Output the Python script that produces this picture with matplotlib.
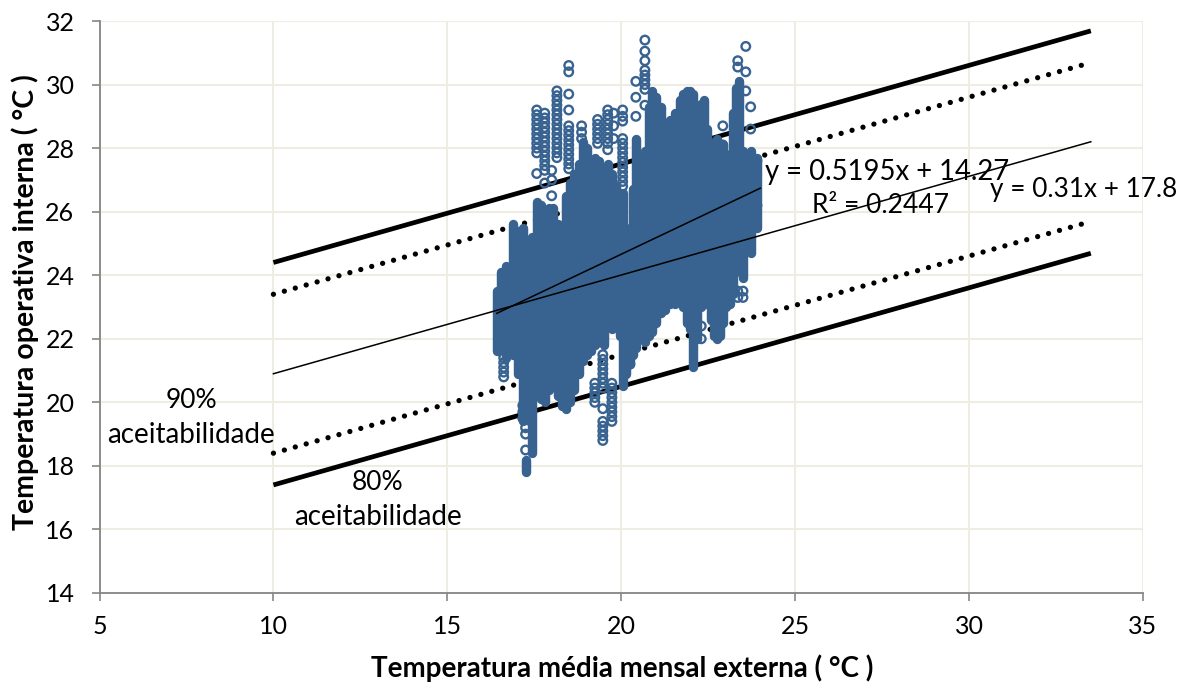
import matplotlib
matplotlib.use("Agg")
import matplotlib.pyplot as plt

# Dense stacks of readings: monthly mean temperature, lowest and highest operative temperature
stack_x = [16.42,16.55,16.70,16.88,17.03,17.17,17.25,17.30,17.43,17.57,17.70,17.80,17.93,18.05,18.18,18.30,18.40,18.52,18.65,18.78,18.90,19.01,19.13,19.25,19.37,19.50,19.62,19.73,19.85,19.95,20.04,20.14,20.24,20.33,20.42,20.55,20.68,20.80,20.88,21.00,21.14,21.27,21.40,21.54,21.68,21.78,21.88,21.98,22.05,22.17,22.28,22.37,22.47,22.58,22.66,22.74,22.83,22.92,23.02,23.12,23.22,23.30,23.38,23.50,23.62,23.72,23.82,23.90]
stack_lo = [21.6,21.7,21.4,21.5,20.9,19.4,17.8,19.5,18.4,20.5,20.1,20.0,20.4,20.6,20.2,19.9,19.8,20.0,20.4,20.9,21.3,21.5,21.6,21.8,21.9,21.8,22.4,22.3,22.4,22.1,20.5,20.9,21.2,21.5,21.7,22.0,21.9,22.1,22.2,22.5,22.8,22.9,23.1,23.1,23.3,23.0,22.5,22.3,21.1,22.0,23.0,23.3,23.1,22.6,22.1,22.0,22.1,22.5,23.0,23.1,23.4,24.1,24.2,23.9,25.3,24.7,25.6,25.5]
stack_hi = [23.5,24.1,24.3,25.6,25.4,25.5,18.2,24.7,25.2,26.3,26.2,25.9,26.1,26.1,25.6,25.5,26.5,26.9,27.2,27.5,28.2,28.0,27.5,27.7,27.6,27.3,27.5,27.2,26.8,25.9,26.6,24.9,25.5,26.7,28.3,27.5,27.9,29.3,29.8,29.6,29.3,28.8,28.9,29.1,29.5,29.7,29.8,29.8,29.7,29.3,29.4,29.5,28.6,28.0,28.2,28.3,27.7,28.1,27.7,27.8,29.1,29.9,30.1,27.9,27.6,27.9,27.7,27.7]

# Individually visible readings, column by column
point_col_x = [16.62,17.25,17.17,17.57,17.80,18.15,18.00,18.49,18.86,19.32,19.47,19.24,19.61,19.78,19.73,20.04,20.42,20.68,22.92,23.35,23.50,23.58,23.72,23.90,20.25,22.30,22.62]
point_col_y = [
    [21.4,21.25,21.1,20.95,20.8],
    [18.5,19.0,19.2],
    [19.9,19.7,19.5],
    [29.2,29.05,28.9,28.75,28.6,28.45,28.3,28.15,28.0,27.85,27.2],
    [29.1,28.95,28.8,28.65,28.5,28.35,28.2,28.05,27.9,27.75,27.6,27.45,27.3,26.9],
    [29.8,29.65,29.5,29.35,29.2,29.05,28.9,28.75,28.6,28.45,28.3,28.15,28.0,27.85,27.7],
    [27.3,27.0,26.5],
    [30.6,30.4,29.7,29.2,28.7,28.55,28.4,28.25,28.1,27.95,27.8,27.65,27.5,27.35],
    [28.7,28.5,28.3],
    [28.9,28.75,28.6,28.45,28.3,28.15],
    [21.5,21.35,21.2,21.05,20.9,20.75,20.6,20.45,19.8,19.4,19.25,19.1,18.95,18.8],
    [20.6,20.45,20.3,20.15,20.0],
    [29.2,29.05,28.9,28.75,28.6,28.45,28.3,28.15,27.95],
    [29.1,28.7,28.3],
    [20.6,20.45,20.3,20.15,20.0,19.85,19.7,19.55,19.4],
    [29.2,29.0,28.85,28.3,28.15,28.0,27.85,27.7,27.55,27.4,27.25,27.1,26.95,26.8],
    [30.1,29.6,29.0],
    [31.4,31.05,30.75,30.45,30.3,30.15,30.0,29.85,29.35],
    [28.7,28.1],
    [30.75,30.55,23.5,23.3],
    [23.5,23.3,24.8],
    [31.2,30.4,29.8],
    [29.3,28.6],
    [27.6,26.2],
    [21.4,21.2],
    [22.0,22.4],
    [22.8,23.1],
]
point_x = [x for x, ys in zip(point_col_x, point_col_y) for _ in ys]
point_y = [y for ys in point_col_y for y in ys]

# Comfort limits and trend lines
limit_x = [10, 33.5]
limit_80_upper = [24.4, 31.69]
limit_90_upper = [23.4, 30.69]
comfort_centre = [20.9, 28.2]
limit_90_lower = [18.4, 25.69]
limit_80_lower = [17.4, 24.69]
trend_x = [16.42, 24.0]
trend_y = [22.80, 26.74]

x_ticks = [5, 10, 15, 20, 25, 30, 35]
y_ticks = [14, 16, 18, 20, 22, 24, 26, 28, 30, 32]

BLUE = "#386391"
GRID = "#EFECE3"
AXIS = "#868686"
W, H = 1187, 683

plt.rcParams["font.family"] = ["Lato", "DejaVu Sans"]
fig = plt.figure(figsize=(W / 100, H / 100), dpi=100, facecolor="white")
ax = fig.add_axes([99.5 / W, 1 - 593 / H, (1143 - 99.5) / W, (593 - 21) / H])
ax.set_xlim(5, 35)
ax.set_ylim(14, 32)
ax.set_xticks(x_ticks)
ax.set_yticks(y_ticks)
ax.grid(True, color=GRID, lw=1.5, zorder=0)
ax.set_axisbelow(True)
for side in ("top", "right"):
    ax.spines[side].set_visible(False)
for side in ("left", "bottom"):
    ax.spines[side].set_color(AXIS)
    ax.spines[side].set_linewidth(1.3)
ax.tick_params(axis="both", color=AXIS, width=1.2, length=6, labelsize=18, labelcolor="black", pad=10)
ax.tick_params(axis="y", pad=12)

ax.plot(limit_x, limit_80_upper, color="black", lw=3.4, solid_capstyle="butt", zorder=2)
ax.plot(limit_x, limit_80_lower, color="black", lw=3.4, solid_capstyle="butt", zorder=2)
ax.plot(limit_x, limit_90_upper, color="black", lw=3.8, ls=(0, (0.01, 2.14)), dash_capstyle="round", zorder=2)
ax.plot(limit_x, limit_90_lower, color="black", lw=3.8, ls=(0, (0.01, 2.14)), dash_capstyle="round", zorder=2)

ax.vlines(stack_x, stack_lo, stack_hi, color=BLUE, lw=6.8, capstyle="round", zorder=3)
ax.scatter(point_x, point_y, s=38, facecolors="none", edgecolors=BLUE, linewidths=1.7, zorder=3)

ax.plot(limit_x, comfort_centre, color="black", lw=1.1, zorder=4)
ax.plot(trend_x, trend_y, color="black", lw=1.1, zorder=4)


def px_text(x, y, s, **kw):
    fig.text(x / W, 1 - y / H, s, ha="center", va="center", color="black", zorder=6, **kw)


px_text(887, 172, "y = 0.5195x + 14.27", fontsize=19.8)
px_text(881, 206, "R² = 0.2447", fontsize=19)
px_text(1084, 189, "y = 0.31x + 17.8", fontsize=18.8)
px_text(191, 400, "90%", fontsize=19)
px_text(191, 435, "aceitabilidade", fontsize=20)
px_text(378, 482, "80%", fontsize=19)
px_text(378, 517, "aceitabilidade", fontsize=20)
px_text(622, 668, "Temperatura média mensal externa ( °C )", fontsize=20, fontweight="bold")
px_text(25, 302, "Temperatura operativa interna ( °C )", fontsize=20.5, fontweight="bold", rotation=90)

fig.savefig("out.png", dpi=100)
